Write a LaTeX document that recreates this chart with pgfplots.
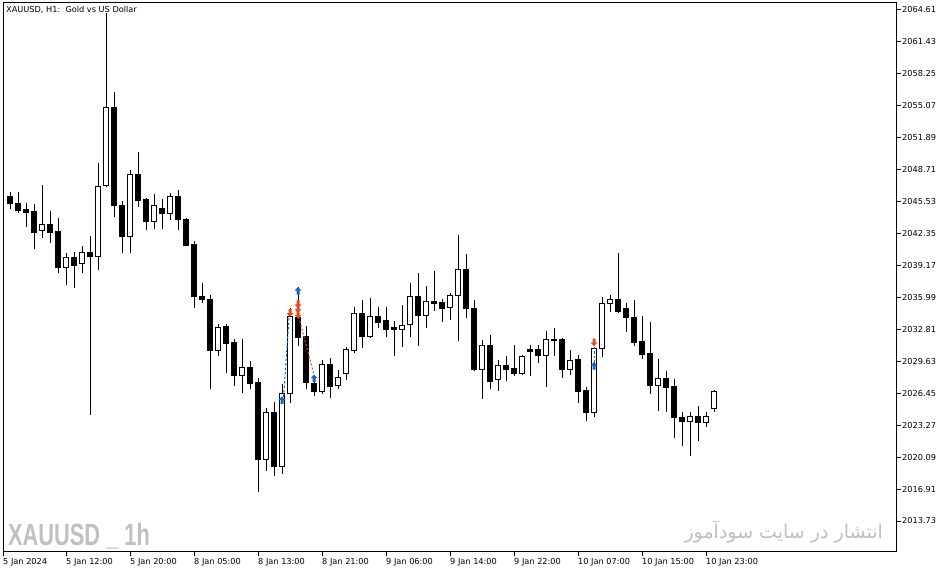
\documentclass[border=0pt]{standalone}
\usepackage{fontspec}
\setmainfont{DejaVu Sans}
\newfontfamily\wmfont{Liberation Sans}
\newfontfamily\arabicfont[Script=Arabic]{DejaVu Sans}
\TeXXeTstate=1
\usepackage{graphicx}
\usepackage{pgfplots}
\usepackage{pgfplotstable}
\usepgfplotslibrary{statistics}
\pgfplotsset{compat=1.18}

\definecolor{mtblue}{RGB}{21,101,192}
\definecolor{mtred}{RGB}{232,73,29}
\definecolor{wmgray}{RGB}{192,192,192}

% MT5 style arrows (up = blue, down = red)
\pgfdeclareplotmark{mtup}{%
  \pgfpathmoveto{\pgfqpoint{0pt}{4pt}}%
  \pgfpathlineto{\pgfqpoint{3.5pt}{0.5pt}}%
  \pgfpathlineto{\pgfqpoint{1.5pt}{0.5pt}}%
  \pgfpathlineto{\pgfqpoint{1.5pt}{-3.5pt}}%
  \pgfpathlineto{\pgfqpoint{-1.5pt}{-3.5pt}}%
  \pgfpathlineto{\pgfqpoint{-1.5pt}{0.5pt}}%
  \pgfpathlineto{\pgfqpoint{-3.5pt}{0.5pt}}%
  \pgfpathclose
  \pgfusepathqfill}
\pgfdeclareplotmark{mtdown}{%
  \pgfpathmoveto{\pgfqpoint{0pt}{-4pt}}%
  \pgfpathlineto{\pgfqpoint{3.5pt}{-0.5pt}}%
  \pgfpathlineto{\pgfqpoint{1.5pt}{-0.5pt}}%
  \pgfpathlineto{\pgfqpoint{1.5pt}{3.5pt}}%
  \pgfpathlineto{\pgfqpoint{-1.5pt}{3.5pt}}%
  \pgfpathlineto{\pgfqpoint{-1.5pt}{-0.5pt}}%
  \pgfpathlineto{\pgfqpoint{-3.5pt}{-0.5pt}}%
  \pgfpathclose
  \pgfusepathqfill}

% XAUUSD H1 candles: index, open, high, low, close
\pgfplotstableread{
x o h l c
0 2046.09 2046.49 2044.80 2045.39
1 2045.39 2046.49 2044.40 2044.60
2 2044.70 2045.39 2043.00 2044.40
3 2044.50 2045.29 2040.81 2042.41
4 2042.61 2047.19 2041.91 2043.30
5 2043.30 2044.60 2041.41 2042.41
6 2042.51 2043.90 2038.42 2039.02
7 2039.02 2040.42 2037.23 2039.92
8 2039.92 2040.52 2036.93 2039.22
9 2039.32 2041.11 2038.42 2040.42
10 2040.42 2042.11 2024.29 2040.02
11 2040.02 2049.38 2038.72 2046.99
12 2047.09 2064.31 2046.99 2054.95
13 2054.95 2056.45 2044.00 2045.19
14 2045.19 2045.59 2040.42 2042.01
15 2042.01 2048.68 2040.42 2048.28
16 2048.28 2050.47 2044.99 2045.69
17 2045.79 2045.89 2042.71 2043.60
18 2043.60 2046.29 2042.81 2045.19
19 2044.80 2045.79 2042.81 2044.30
20 2044.30 2046.39 2043.70 2046.09
21 2046.09 2046.69 2042.71 2043.80
22 2043.80 2043.90 2041.11 2041.21
23 2041.31 2041.61 2034.94 2036.13
24 2036.13 2037.43 2035.44 2035.83
25 2035.83 2036.23 2026.87 2030.66
26 2030.66 2033.35 2030.16 2032.95
27 2033.05 2033.35 2028.47 2031.45
28 2031.55 2031.85 2027.17 2028.17
29 2028.17 2031.85 2026.48 2029.06
30 2029.06 2029.66 2026.87 2027.47
31 2027.57 2027.97 2016.62 2019.90
32 2019.90 2024.98 2018.71 2024.58
33 2024.58 2025.58 2018.21 2019.11
34 2019.11 2027.37 2018.41 2026.38
35 2026.38 2034.94 2025.48 2034.14
36 2034.04 2037.03 2031.16 2032.05
37 2032.15 2033.15 2026.87 2027.57
38 2027.47 2027.77 2026.18 2026.58
39 2026.58 2029.76 2026.38 2029.36
40 2029.36 2029.96 2025.98 2027.17
41 2027.27 2028.77 2026.87 2027.97
42 2028.37 2031.06 2027.77 2030.76
43 2030.66 2035.04 2030.46 2034.44
44 2034.44 2035.74 2030.96 2032.15
45 2032.15 2035.93 2031.95 2034.14
46 2034.14 2035.04 2032.95 2033.54
47 2033.74 2035.04 2032.05 2032.75
48 2032.95 2033.64 2030.16 2032.75
49 2032.75 2035.24 2031.06 2033.15
50 2033.25 2037.43 2032.05 2036.13
51 2036.13 2038.42 2031.16 2034.24
52 2034.24 2037.13 2032.95 2035.54
53 2035.54 2038.62 2034.64 2035.34
54 2035.44 2035.83 2033.54 2034.84
55 2034.94 2036.43 2033.74 2036.23
56 2036.23 2042.21 2031.65 2038.82
57 2038.82 2040.32 2033.94 2034.84
58 2034.84 2035.74 2028.67 2028.77
59 2028.77 2031.75 2025.88 2031.16
60 2031.16 2032.25 2026.87 2027.67
61 2027.77 2029.76 2026.67 2029.26
62 2029.26 2030.16 2027.67 2028.77
63 2028.87 2031.26 2028.17 2028.37
64 2028.37 2030.26 2028.27 2030.06
65 2030.76 2031.26 2028.17 2030.56
66 2030.76 2031.26 2029.46 2030.16
67 2030.16 2032.65 2027.07 2031.85
68 2031.85 2032.95 2030.16 2031.75
69 2031.85 2031.95 2027.97 2028.77
70 2028.77 2030.76 2028.27 2029.76
71 2029.86 2030.26 2025.48 2026.58
72 2026.77 2027.07 2023.69 2024.58
73 2024.58 2031.06 2024.09 2030.86
74 2030.86 2036.03 2030.06 2035.34
75 2035.34 2036.23 2034.54 2035.74
76 2035.74 2040.42 2034.44 2034.64
77 2034.84 2035.44 2032.55 2034.04
78 2034.04 2035.74 2031.16 2031.55
79 2031.65 2034.14 2029.86 2030.26
80 2030.36 2033.54 2026.38 2027.27
81 2027.27 2029.86 2024.68 2027.87
82 2027.87 2028.67 2024.58 2027.07
83 2027.17 2027.87 2021.99 2023.99
84 2023.99 2024.58 2021.20 2023.59
85 2023.59 2024.58 2020.20 2024.09
86 2024.09 2025.18 2021.70 2023.49
87 2023.49 2024.58 2023.09 2024.09
88 2024.98 2026.77 2024.58 2026.58
}\candles

% the axis runs in (price - 2000) so that boxplot stays inside TeX's dimension range
\def\base{2000}

\begin{document}
\begin{tikzpicture}
\useasboundingbox (0,0) rectangle (951pt,574pt);
\fill[white] (0,0) rectangle (951pt,574pt);

% watermarks
\node[anchor=base west, inner sep=0pt, text=wmgray,
      font=\wmfont\bfseries\fontsize{30.7}{32}\selectfont] at (8pt,29pt)
      {\scalebox{0.71}[1]{XAUUSD\ \_\ 1h}};
\node[anchor=base east, inner sep=0pt, text=wmgray,
      font=\arabicfont\fontsize{19}{22}\selectfont] at (883pt,36pt)
      {\beginR انتشار در سایت سودآموز\endR};

\begin{axis}[
    at={(3pt,23pt)}, anchor=south west,
    scale only axis,
    width=893pt, height=548pt,
    xmin=-0.875, xmax=110.75,
    ymin=10.744, ymax=65.307,
    axis line style={line width=1pt, black},
    tick align=outside,
    major tick length=5pt,
    tick style={line width=1pt, black},
    xtick pos=bottom,
    ytick pos=right,
    yticklabel pos=right,
    xtick={-0.875,7,15,23,31,39,47,55,63,71,79,87},
    xticklabels={5 Jan 2024,5 Jan 12:00,5 Jan 20:00,8 Jan 05:00,8 Jan 13:00,8 Jan 21:00,9 Jan 06:00,9 Jan 14:00,9 Jan 22:00,10 Jan 07:00,10 Jan 15:00,10 Jan 23:00},
    ytick={13.73,16.91,20.09,23.27,26.45,29.63,32.81,35.99,39.17,42.35,45.53,48.71,51.89,55.07,58.25,61.43,64.61},
    yticklabels={2013.73,2016.91,2020.09,2023.27,2026.45,2029.63,2032.81,2035.99,2039.17,2042.35,2045.53,2048.71,2051.89,2055.07,2058.25,2061.43,2064.61},
    ticklabel style={font=\fontsize{8.2}{10}\selectfont, inner sep=0pt},
    xticklabel style={anchor=north west, yshift=-2pt},
    yticklabel style={anchor=west, xshift=1pt},
]

% candles: white = bull, black = bear
\pgfplotsinvokeforeach{0,...,88}{
  \pgfplotstablegetelem{#1}{o}\of\candles \pgfmathsetmacro\co{\pgfplotsretval-\base}
  \pgfplotstablegetelem{#1}{c}\of\candles \pgfmathsetmacro\cc{\pgfplotsretval-\base}
  \pgfplotstablegetelem{#1}{h}\of\candles \pgfmathsetmacro\ch{\pgfplotsretval-\base}
  \pgfplotstablegetelem{#1}{l}\of\candles \pgfmathsetmacro\cl{\pgfplotsretval-\base}
  \pgfmathsetmacro\clo{min(\co,\cc)}
  \pgfmathsetmacro\chi{max(\co,\cc)}
  \pgfmathparse{\cc>\co}
  \ifdim\pgfmathresult pt>0.5pt \def\cfill{white}\else\def\cfill{black}\fi
  \edef\doplot{\noexpand\addplot[black, line width=1pt, fill=\cfill,
      boxplot/draw direction=y,
      boxplot prepared={draw position=#1,
        lower whisker=\cl, upper whisker=\ch,
        lower quartile=\clo, upper quartile=\chi, median=\clo,
        box extend=0.55, whisker extend=0}]
      coordinates {};}
  \doplot
}

% signal connectors
\addplot[mtblue, line width=1pt, dash pattern=on 2.5pt off 2pt, y filter/.expression={y-\base}]
  coordinates {(34.2,2026.08) (34.9,2034.24)};
\addplot[mtred, line width=1pt, dash pattern=on 2pt off 2pt, y filter/.expression={y-\base}]
  coordinates {(36.1,2034.04) (38.0,2028.27)};
\addplot[mtblue, line width=1pt, dash pattern=on 2.5pt off 2pt, y filter/.expression={y-\base}]
  coordinates {(73,2031.55) (73,2029.16)};

% arrows
\addplot[mtblue, only marks, mark=mtup, y filter/.expression={y-\base}]
  coordinates {(34,2025.75) (36,2036.63) (38,2027.90) (73,2029.16)};
\addplot[mtred, only marks, mark=mtdown, y filter/.expression={y-\base}]
  coordinates {(35,2034.47) (36,2035.36) (36,2034.86) (36,2034.30) (73,2031.55)};

\end{axis}

\node[anchor=north west, inner sep=0pt, font=\fontsize{8.2}{10}\selectfont]
  at (6pt,568pt) {XAUUSD, H1:\ \ Gold vs US Dollar};
\end{tikzpicture}
\end{document}
